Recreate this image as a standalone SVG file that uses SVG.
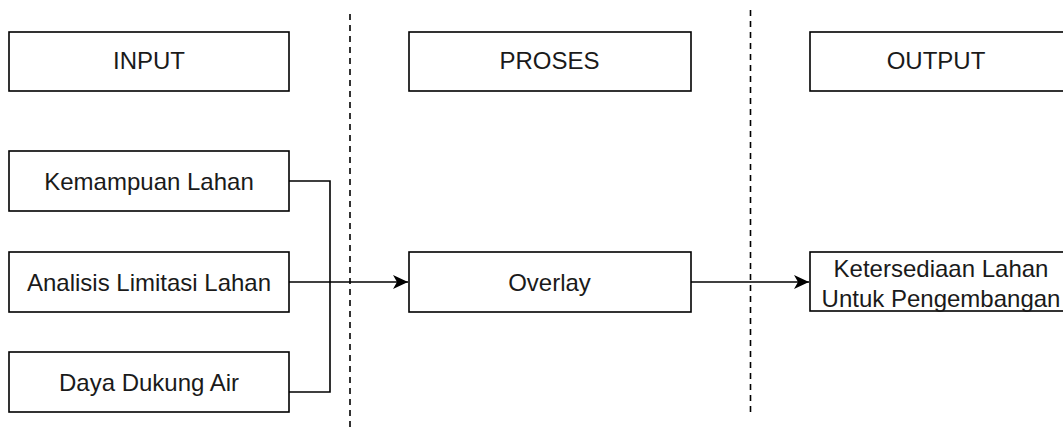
<svg xmlns="http://www.w3.org/2000/svg" width="1063" height="428" viewBox="0 0 1063 428">
<defs>
<style>
.box{fill:#fff;stroke:#000;stroke-width:1.6}
.t{font-family:"Liberation Sans",Arial,sans-serif;font-size:24px;fill:#1a1a1a;text-anchor:middle}
.c{fill:none;stroke:#000;stroke-width:1.6}
.d{fill:none;stroke:#000;stroke-width:1.6;stroke-dasharray:6 5}
</style>
<marker id="ah" markerWidth="16" markerHeight="14" refX="15" refY="7" orient="auto" markerUnits="userSpaceOnUse">
<path d="M0,0 L15,7 L0,14 L4,7 Z" fill="#000"/>
</marker>
</defs>
<rect width="1063" height="428" fill="#fff"/>
<g id="dividers">
<line class="d" x1="350" y1="14" x2="350" y2="428"/>
<line class="d" x1="750.5" y1="10" x2="750.5" y2="413"/>
</g>
<g id="input"><rect class="box" x="9" y="32" width="280" height="59"/><text class="t" x="149" y="69">INPUT</text></g>
<g id="proses"><rect class="box" x="409" y="32" width="282" height="59"/><text class="t" x="549.5" y="69">PROSES</text></g>
<g id="output"><rect class="box" x="810" y="32" width="280" height="59"/><text class="t" x="936" y="69">OUTPUT</text></g>
<g id="kemampuan"><rect class="box" x="9" y="151" width="280" height="60"/><text class="t" x="149" y="190">Kemampuan Lahan</text></g>
<g id="analisis"><rect class="box" x="9" y="252" width="280" height="60"/><text class="t" x="149" y="291">Analisis Limitasi Lahan</text></g>
<g id="daya"><rect class="box" x="9" y="352" width="280" height="60"/><text class="t" x="149" y="391">Daya Dukung Air</text></g>
<g id="overlay"><rect class="box" x="409" y="252" width="282" height="60"/><text class="t" x="549.5" y="291">Overlay</text></g>
<g id="ketersediaan"><rect class="box" x="810" y="252" width="280" height="59"/><text class="t" x="941" y="277">Ketersediaan Lahan</text><text class="t" x="941" y="307">Untuk Pengembangan</text></g>
<g id="connectors">
<path class="c" d="M289,181 H330 V392 H289"/>
<path class="c" d="M289,282 H408" marker-end="url(#ah)"/>
<path class="c" d="M691,282 H809" marker-end="url(#ah)"/>
</g>
</svg>
